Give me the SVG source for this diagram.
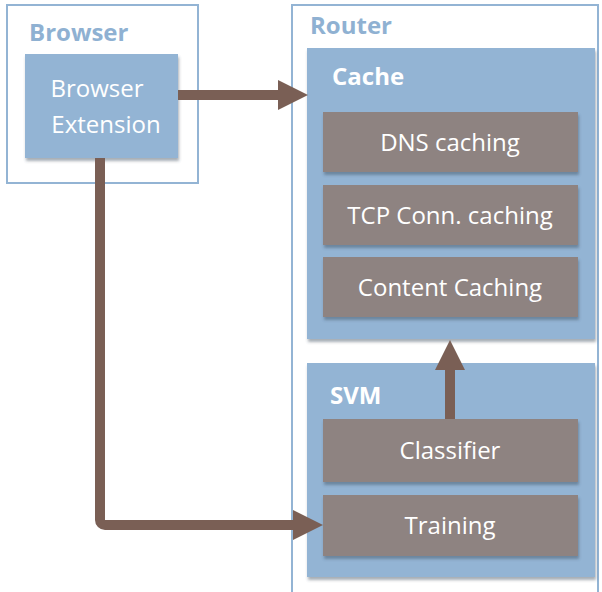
<svg xmlns="http://www.w3.org/2000/svg" width="602" height="592" viewBox="0 0 602 592">
<defs>
<filter id="sh" x="-5%" y="-5%" width="115%" height="125%">
<feDropShadow dx="1" dy="3" stdDeviation="1.5" flood-color="#3a4a5a" flood-opacity="0.45"/>
</filter>
<style>
.outer{fill:#fff;stroke:#93b4d4;stroke-width:2}
.blue{fill:#93b4d4}
.gray{fill:#8e8381}
.ttl{font-family:"Open Sans",Lato,sans-serif;font-weight:bold;font-size:24px}
.ttlb{fill:#8fb1d2}
.ttlw{fill:#fff}
.lbl{font-family:"Open Sans",Lato,sans-serif;font-size:24px;fill:#fff;text-anchor:middle}
.conn{fill:none;stroke:#7a5f55;stroke-width:10}
.head{fill:#7a5f55}
</style>
</defs>
<rect width="602" height="592" fill="#fff"/>
<g id="browser">
<rect class="outer" x="7" y="5" width="191" height="178"/>
<text class="ttl ttlb" x="29" y="41">Browser</text>
</g>
<g id="router">
<rect class="outer" x="292" y="5" width="306" height="600"/>
<text class="ttl ttlb" x="310" y="34">Router</text>
</g>
<g id="browser-extension">
<rect class="blue" x="25" y="54" width="153" height="104" filter="url(#sh)"/>
<text class="lbl" x="97" y="97">Browser</text>
<text class="lbl" x="106" y="133">Extension</text>
</g>
<g id="cache">
<rect class="blue" x="307" y="48" width="288" height="291" filter="url(#sh)"/>
<text class="ttl ttlw" x="332" y="85">Cache</text>
</g>
<g id="dns-caching">
<rect class="gray" x="323" y="112" width="255" height="60" filter="url(#sh)"/>
<text class="lbl" x="450" y="151">DNS caching</text>
</g>
<g id="tcp-conn-caching">
<rect class="gray" x="323" y="185" width="255" height="60" filter="url(#sh)"/>
<text class="lbl" x="450" y="224">TCP Conn. caching</text>
</g>
<g id="content-caching">
<rect class="gray" x="323" y="257" width="255" height="60" filter="url(#sh)"/>
<text class="lbl" x="450" y="296">Content Caching</text>
</g>
<g id="svm">
<rect class="blue" x="307" y="363" width="288" height="214" filter="url(#sh)"/>
<text class="ttl ttlw" x="330" y="404">SVM</text>
</g>
<g id="classifier">
<rect class="gray" x="323" y="419" width="255" height="63" filter="url(#sh)"/>
<text class="lbl" x="450" y="459">Classifier</text>
</g>
<g id="training">
<rect class="gray" x="323" y="495" width="255" height="61" filter="url(#sh)"/>
<text class="lbl" x="450" y="534">Training</text>
</g>
<g id="connectors">
<path class="conn" d="M178 95 H280"/>
<polygon class="head" points="278,80 308,95 278,110"/>
<path class="conn" d="M100 158 V520 a5 5 0 0 0 5 5 H296"/>
<polygon class="head" points="293,510 323,525 293,540"/>
<path class="conn" d="M450 419 V368"/>
<polygon class="head" points="435,370 450,340 465,370"/>
</g>
</svg>
